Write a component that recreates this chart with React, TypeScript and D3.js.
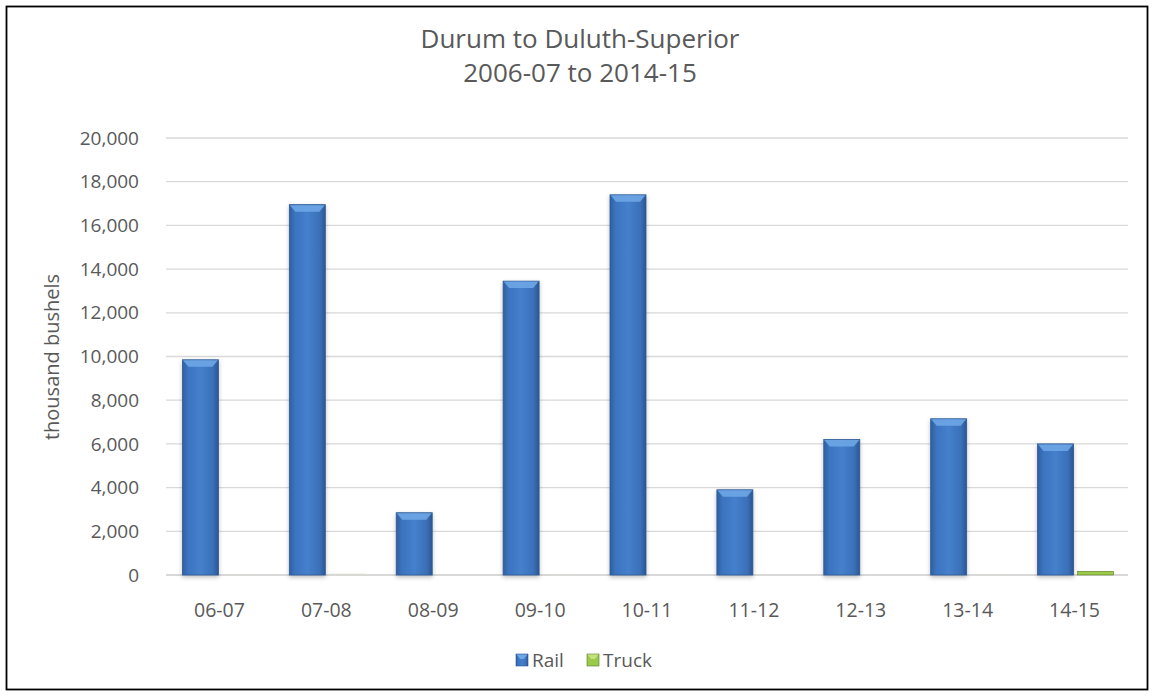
import React from "react";
import * as d3 from "d3";

const categories = ["06-07", "07-08", "08-09", "09-10", "10-11", "11-12", "12-13", "13-14", "14-15"];
const railValues = [9850, 16950, 2850, 13450, 17400, 3900, 6200, 7150, 6000];
const truckValues = [15, 60, 0, 20, 5, 10, 10, 15, 170];
const yTicks = [0, 2000, 4000, 6000, 8000, 10000, 12000, 14000, 16000, 18000, 20000];
const titleLines = ["Durum to Duluth-Superior", "2006-07 to 2014-15"];
const yAxisTitle = "thousand bushels";
const seriesNames = ["Rail", "Truck"];

const W = 1155;
const H = 696;
const FONT = "'Open Sans', 'Liberation Sans', sans-serif";
const TXT = "#595959";

export default function App() {
  const x = d3.scaleBand<string>().domain(categories).range([166, 1128]);
  const y = d3.scaleLinear().domain([0, 20000]).range([575, 138]);
  const bw = 36;
  const fmt = d3.format(",");

  const railBar = (v: number, c: string, i: number) => {
    const cx = (x(c) as number) + x.bandwidth() / 2;
    const x0 = cx - bw - 1;
    const top = y(v);
    const h = y(0) - top;
    const bev = Math.min(7, h / 2);
    return (
      <g key={"r" + i}>
        <rect x={x0} y={top} width={bw} height={h} fill="url(#railGrad)" stroke="#2f5a94" strokeWidth={0.8} filter="url(#shadow)" />
        <path d={`M${x0 + 0.5},${top + 0.5} L${x0 + bw - 0.5},${top + 0.5} L${x0 + bw - 6},${top + bev} L${x0 + 6},${top + bev} Z`} fill="#6ea6e6" opacity={0.9} />
      </g>
    );
  };

  const truckBar = (v: number, c: string, i: number) => {
    const cx = (x(c) as number) + x.bandwidth() / 2;
    const x0 = cx + 3;
    const top = y(v);
    const h = Math.max(0, y(0) - top);
    if (v <= 0) return null;
    return (
      <g key={"t" + i}>
        <rect x={x0} y={top} width={bw} height={h} fill={v > 100 ? "#9bc94a" : "#d8dccb"} stroke={v > 100 ? "#5d7a26" : "none"} strokeWidth={0.6} />
      </g>
    );
  };

  return (
    <svg width={W} height={H} style={{ position: "absolute", left: 0, top: 0 }} fontFamily={FONT}>
      <defs>
        <linearGradient id="railGrad" x1="0" x2="1" y1="0" y2="0">
          <stop offset="0" stopColor="#2f5f9f" />
          <stop offset="0.15" stopColor="#3b73bf" />
          <stop offset="0.5" stopColor="#4580cc" />
          <stop offset="0.85" stopColor="#3a70b8" />
          <stop offset="1" stopColor="#2b5590" />
        </linearGradient>
        <filter id="shadow" x="-20%" y="-5%" width="140%" height="115%">
          <feDropShadow dx="0" dy="2" stdDeviation="2" floodColor="#000" floodOpacity="0.25" />
        </filter>
      </defs>
      <rect x={0} y={0} width={W} height={H} fill="#fff" />
      <rect x={6.5} y={6.5} width={1141} height={683} fill="#fff" stroke="#000" strokeWidth={1.8} />

      {titleLines.map((t, i) => (
        <text key={t} x={580} y={39 + i * 34} dy="0.35em" textAnchor="middle" fontSize={26} fill={TXT}>{t}</text>
      ))}

      {yTicks.map((t) => (
        <g key={t}>
          <line x1={166} x2={1128} y1={y(t)} y2={y(t)} stroke="#d9d9d9" strokeWidth={t === 0 ? 2 : 1.3} />
          <text x={139} y={y(t)} dy="0.35em" textAnchor="end" fontSize={19} fill={TXT}>{fmt(t)}</text>
        </g>
      ))}

      <text transform={`translate(52,357) rotate(-90)`} textAnchor="middle" dy="0.35em" fontSize={20} fill={TXT}>{yAxisTitle}</text>

      {categories.map((c, i) => truckBar(truckValues[i], c, i))}
      {categories.map((c, i) => railBar(railValues[i], c, i))}

      {categories.map((c) => (
        <text key={c} x={(x(c) as number) + x.bandwidth() / 2} y={610} dy="0.35em" textAnchor="middle" fontSize={19.5} fill={TXT}>{c}</text>
      ))}

      <g>
        <rect x={516} y={654} width={12} height={12} fill="url(#railGrad)" stroke="#2f5a94" strokeWidth={0.6} />
        <path d="M516.5,654.5 L527.5,654.5 L524,659 L520,659 Z" fill="#6ea6e6" />
        <text x={532} y={660} dy="0.35em" fontSize={19} fill={TXT}>{seriesNames[0]}</text>
        <rect x={587} y={654} width={12} height={12} fill="#9bc94a" stroke="#5d7a26" strokeWidth={0.6} />
        <path d="M587.5,654.5 L598.5,654.5 L595,659 L591,659 Z" fill="#c4e27e" />
        <text x={603} y={660} dy="0.35em" fontSize={19} fill={TXT}>{seriesNames[1]}</text>
      </g>
    </svg>
  );
}
